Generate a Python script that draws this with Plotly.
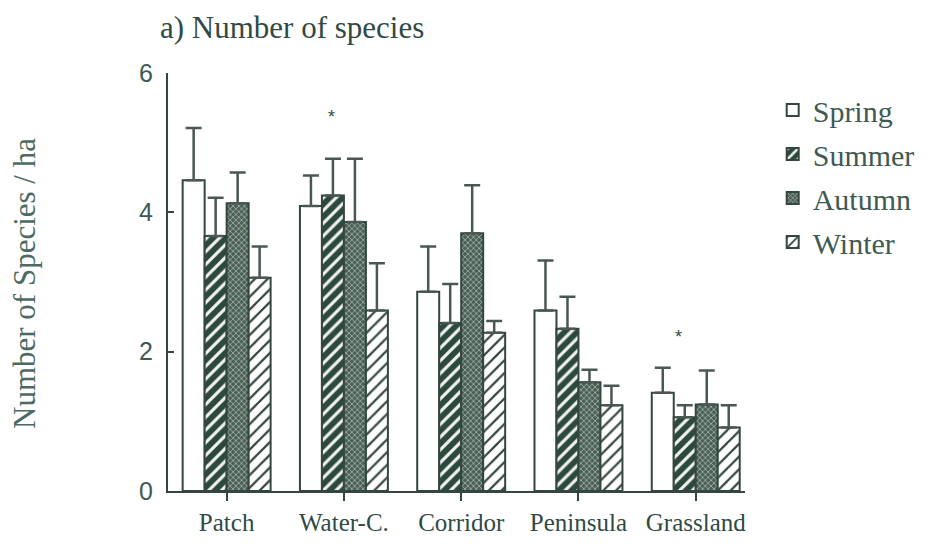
import plotly.graph_objects as go

categories = ["Patch", "Water-C.", "Corridor", "Peninsula", "Grassland"]
seasons = ["Spring", "Summer", "Autumn", "Winter"]

spring = [4.46, 4.09, 2.86, 2.59, 1.41]
spring_err_top = [5.21, 4.53, 3.51, 3.31, 1.77]
summer = [3.66, 4.24, 2.41, 2.33, 1.06]
summer_err_top = [4.21, 4.77, 2.97, 2.79, 1.23]
autumn = [4.13, 3.86, 3.70, 1.56, 1.24]
autumn_err_top = [4.57, 4.77, 4.39, 1.74, 1.73]
winter = [3.06, 2.59, 2.27, 1.23, 0.91]
winter_err_top = [3.51, 3.27, 2.44, 1.51, 1.23]

star_labels = ["*", "*"]
star_cats = [1, 4]
star_offsets = [-0.11, -0.15]
star_y = [5.37, 2.21]

y_ticks = [0, 2, 4, 6]

INK = "#34463f"
TXT = "#2f4a44"
SERIF = "Liberation Serif, Times New Roman, serif"
SANS = "Liberation Sans, Arial, sans-serif"

styles = {
    "Spring": dict(color="white", pattern=dict(shape="")),
    "Summer": dict(color="#2c4a3c", pattern=dict(shape="/", bgcolor="#2c4a3c", fgcolor="#f2f2f2",
                                                 size=9, solidity=0.35, fillmode="replace")),
    "Autumn": dict(color="#55695f", pattern=dict(shape="x", bgcolor="#4a5f55", fgcolor="#a9b8b0",
                                                 size=4, solidity=0.35, fillmode="replace")),
    "Winter": dict(color="white", pattern=dict(shape="/", bgcolor="white", fgcolor="#34463f",
                                               size=9, solidity=0.25, fillmode="replace")),
}

data = {
    "Spring": (spring, spring_err_top),
    "Summer": (summer, summer_err_top),
    "Autumn": (autumn, autumn_err_top),
    "Winter": (winter, winter_err_top),
}

fig = go.Figure()
for s in seasons:
    vals, tops = data[s]
    up = [t - v for t, v in zip(tops, vals)]
    st = styles[s]
    fig.add_trace(go.Bar(
        x=categories, y=vals, name=s, legendgroup=s,
        marker=dict(color=st["color"], line=dict(color=INK, width=2), pattern=st["pattern"]),
        error_y=dict(type="data", array=up, arrayminus=[0] * len(up), symmetric=False,
                     color="#4a5753", thickness=2.5, width=8),
    ))

for lab, c, off, yv in zip(star_labels, star_cats, star_offsets, star_y):
    fig.add_annotation(x=c + off, y=yv, xref="x", yref="y", text=lab, showarrow=False,
                       font=dict(family=SANS, size=18, color=TXT))

fig.add_annotation(text="Number of Species / ha", xref="paper", yref="paper",
                   x=(25 - 168) / 577, y=(493 - 285) / 420, xanchor="center", yanchor="middle",
                   textangle=-90, showarrow=False,
                   font=dict(family=SERIF, size=31, color="#4d6a62"))

fig.update_layout(
    width=941, height=548,
    margin=dict(l=168, r=196, t=73, b=55),
    paper_bgcolor="white", plot_bgcolor="white",
    barmode="group", bargap=0.25, bargroupgap=0,
    title=dict(text="a) Number of species", xref="container", yref="container",
               x=160 / 941, xanchor="left", y=1 - 27 / 548, yanchor="middle",
               font=dict(family=SERIF, size=31, color=TXT)),
    legend=dict(x=1.048, xanchor="left", y=1 - 11 / 420, yanchor="top",
                font=dict(family=SERIF, size=30, color="#3f5a52"),
                tracegroupgap=2, bgcolor="rgba(0,0,0,0)", itemwidth=30),
    showlegend=True,
)
fig.update_xaxes(range=[-0.5, 4.42], showline=True, linecolor=INK, linewidth=2,
                 ticks="outside", ticklen=8, tickcolor=INK, tickwidth=1.5,
                 tickfont=dict(family=SERIF, size=25, color=TXT), showgrid=False, zeroline=False)
fig.update_yaxes(range=[0, 6], tickvals=y_ticks, showline=True, linecolor=INK, linewidth=2,
                 ticks="inside", ticklen=6, tickcolor=INK, tickwidth=1.5, ticklabelstandoff=8,
                 tickfont=dict(family=SANS, size=25, color="#3c5a55"), showgrid=False, zeroline=False)

fig.write_html("out.html")
